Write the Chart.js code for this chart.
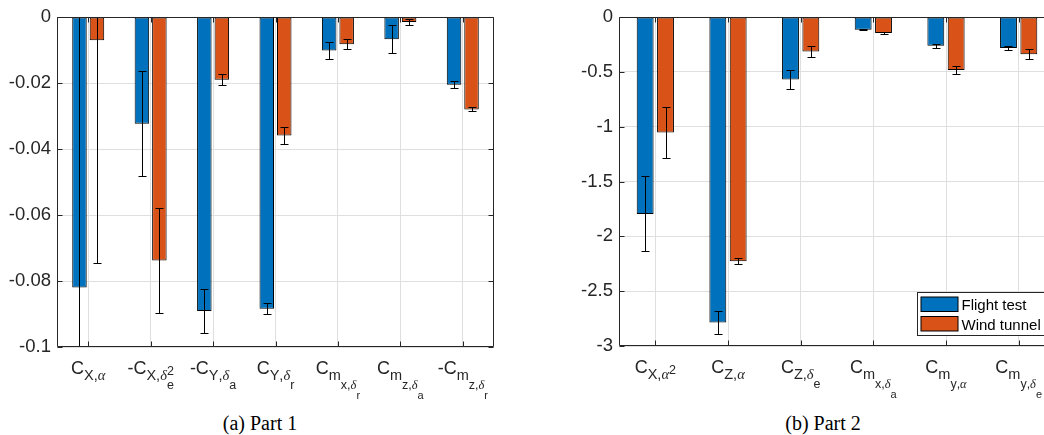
<!DOCTYPE html>
<html><head><meta charset="utf-8">
<script src="https://cdn.jsdelivr.net/npm/chart.js@4.4.1/dist/chart.umd.min.js"></script>
<style>
html,body{margin:0;padding:0;background:#fff;overflow:hidden;width:1044px;height:435px;}
#wrap{position:relative;width:1044px;height:435px;overflow:hidden;background:#fff;}
canvas{position:absolute;top:0;}
#c1{left:0;}
#c2{left:520px;}
.cap{position:absolute;top:413px;font-family:"Liberation Serif","Times New Roman",serif;font-size:20px;line-height:20px;color:#000;white-space:nowrap;transform:translateX(-50%);}
</style>
</head><body>
<div id="wrap">
<canvas id="c1" width="520" height="400"></canvas>
<canvas id="c2" width="560" height="400"></canvas>
<div class="cap" id="cap1" style="left:260px;">(a) Part 1</div>
<div class="cap" id="cap2" style="left:823px;">(b) Part 2</div>
</div>
<script>
// ---------------- DATA ----------------
const flightLabel = "Flight test";
const tunnelLabel = "Wind tunnel";

const categories1 = ["C_{X,α}", "-C_{X,δ_e^2}", "-C_{Y,δ_a}", "C_{Y,δ_r}", "C_{m_{x,δ_r}}", "C_{m_{z,δ_a}}", "-C_{m_{z,δ_r}}"];
const flight1     = [-0.082, -0.0323, -0.0891, -0.0884, -0.0101, -0.0067, -0.0205];
const flightErr1  = [0.09, 0.0159, 0.0066, 0.0017, 0.0027, 0.0043, 0.001];
const tunnel1     = [-0.007, -0.0738, -0.019, -0.0359, -0.0082, -0.0015, -0.028];
const tunnelErr1  = [0.0675, 0.016, 0.0017, 0.0027, 0.0015, 0.0008, 0.0006];
const yTicks1      = [0, -0.02, -0.04, -0.06, -0.08, -0.1];
const yTickLabels1 = ["0", "-0.02", "-0.04", "-0.06", "-0.08", "-0.1"];

const categories2 = ["C_{X,α^2}", "C_{Z,α}", "C_{Z,δ_e}", "C_{m_{x,δ_a}}", "C_{m_{y,α}}", "C_{m_{y,δ_e}}"];
const flight2     = [-1.795, -2.785, -0.570, -0.115, -0.262, -0.281];
const flightErr2  = [0.342, 0.104, 0.086, 0.005, 0.02, 0.018];
const tunnel2     = [-1.053, -2.227, -0.314, -0.145, -0.482, -0.338];
const tunnelErr2  = [0.232, 0.029, 0.047, 0.005, 0.035, 0.048];
const yTicks2      = [0, -0.5, -1, -1.5, -2, -2.5, -3];
const yTickLabels2 = ["0", "-0.5", "-1", "-1.5", "-2", "-2.5", "-3"];

// ---------------- STYLE ----------------
const BLUE = '#0072BD', ORANGE = '#D95319';
const AXIS = '#262626', GRID = '#dfdfdf';
const SIZES = [18, 14.5, 12.5, 11];
const SUBSHIFT = [5.5, 9.5, 9.5, 8.5];
const SUPSHIFT = [7, 5, 4, 3];
const GREEK = /[\u0370-\u03FF]/;

function parseTex(s){
  let i = 0;
  function group(){
    const nodes = [];
    while (i < s.length && s[i] !== '}'){
      const ch = s[i++];
      const node = {t: ch, sub: null, sup: null};
      while (i < s.length && (s[i] === '_' || s[i] === '^')){
        const k = s[i++];
        let g;
        if (s[i] === '{'){ i++; g = group(); i++; }
        else { g = [{t: s[i++], sub: null, sup: null}]; }
        if (k === '_') node.sub = g; else node.sup = g;
      }
      nodes.push(node);
    }
    return nodes;
  }
  return group();
}
function setFont(ctx, ch, lvl){
  const sz = SIZES[Math.min(lvl, 3)];
  ctx.font = GREEK.test(ch) ? `italic ${sz}px "Liberation Serif"` : `${sz}px "Liberation Sans"`;
}
function layout(ctx, nodes, lvl, x, base, draw){
  for (const n of nodes){
    setFont(ctx, n.t, lvl);
    if (draw) ctx.fillText(n.t, x, base);
    x += ctx.measureText(n.t).width;
    if (n.sub || n.sup){
      let x1 = x, x2 = x;
      if (n.sub) x1 = layout(ctx, n.sub, lvl + 1, x, base + SUBSHIFT[Math.min(lvl,3)], draw);
      if (n.sup) x2 = layout(ctx, n.sup, lvl + 1, x, base - SUPSHIFT[Math.min(lvl,3)], draw);
      x = Math.max(x1, x2);
    }
  }
  return x;
}

function extrasPlugin(opts){
  return {
    id: 'extras',
    afterDatasetsDraw(chart){
      const ctx = chart.ctx, a = chart.chartArea, xs = chart.scales.x, ys = chart.scales.y;
      ctx.save();
      ctx.beginPath(); ctx.rect(a.left, a.top, a.right - a.left, a.bottom - a.top); ctx.clip();
      ctx.strokeStyle = '#000'; ctx.lineWidth = 1;
      chart.data.datasets.forEach((ds, di) => {
        const meta = chart.getDatasetMeta(di);
        meta.data.forEach((bar, i) => {
          const v = ds.data[i], e = ds.errors[i];
          const px = Math.round(bar.x) + 0.5;
          const y1 = Math.round(ys.getPixelForValue(v + e)) + 0.5;
          const y2 = Math.round(ys.getPixelForValue(v - e)) + 0.5;
          ctx.beginPath();
          ctx.moveTo(px, y1); ctx.lineTo(px, y2);
          ctx.moveTo(px - 4, y1); ctx.lineTo(px + 4, y1);
          ctx.moveTo(px - 4, y2); ctx.lineTo(px + 4, y2);
          ctx.stroke();
        });
      });
      ctx.restore();
      ctx.save();
      ctx.strokeStyle = AXIS; ctx.lineWidth = 1;
      const L = Math.round(a.left) + 0.5, R = Math.round(a.right) - 0.5;
      const T = Math.round(a.top) + 0.5, B = Math.round(a.bottom) - 0.5;
      ctx.beginPath();
      ctx.moveTo(L, T); ctx.lineTo(R, T); ctx.lineTo(R, B); ctx.lineTo(L, B); ctx.closePath();
      xs.ticks.forEach((t, i) => {
        const px = Math.round(xs.getPixelForTick(i)) + 0.5;
        ctx.moveTo(px, T); ctx.lineTo(px, T + 5);
        ctx.moveTo(px, B); ctx.lineTo(px, B - 5);
      });
      opts.yTicks.forEach(v => {
        const py = Math.round(ys.getPixelForValue(v)) + 0.5;
        ctx.moveTo(L, py); ctx.lineTo(L + 5, py);
        ctx.moveTo(R, py); ctx.lineTo(R - 5, py);
      });
      ctx.stroke();
      ctx.restore();
    },
    afterDraw(chart){
      const ctx = chart.ctx, a = chart.chartArea, xs = chart.scales.x;
      ctx.save();
      ctx.fillStyle = AXIS; ctx.textBaseline = 'alphabetic'; ctx.textAlign = 'left';
      chart.data.labels.forEach((lab, i) => {
        const nodes = parseTex(lab);
        const w = layout(ctx, nodes, 0, 0, 0, false);
        const cx = xs.getPixelForTick(i);
        layout(ctx, nodes, 0, cx - w / 2, a.bottom + 27, true);
      });
      ctx.restore();
      if (opts.legend){
        ctx.save();
        const bx = Math.round(a.right) - 138 + 0.5, by = Math.round(a.bottom) - 54 + 0.5;
        const bw = 140, bh = 43;
        ctx.fillStyle = '#fff'; ctx.fillRect(bx, by, bw, bh);
        ctx.strokeStyle = AXIS; ctx.lineWidth = 1; ctx.strokeRect(bx, by, bw, bh);
        ctx.font = '15px "Liberation Sans"'; ctx.textBaseline = 'alphabetic'; ctx.textAlign = 'left';
        chart.data.datasets.forEach((ds, di) => {
          const sy = by + 4.5 + di * 19.5;
          ctx.fillStyle = ds.backgroundColor;
          ctx.fillRect(bx + 3.5, sy, 37, 14.5);
          ctx.strokeStyle = '#000';
          ctx.strokeRect(bx + 3.5, sy, 37, 14.5);
          ctx.fillStyle = '#000';
          ctx.fillText(ds.label, bx + 44, sy + 13);
        });
        ctx.restore();
      }
    }
  };
}

function makeChart(id, cats, fl, flErr, tu, tuErr, yTicks, yLabels, box, legend){
  const cv = document.getElementById(id);
  const W = cv.width, H = cv.height;
  return new Chart(cv, {
    type: 'bar',
    data: {
      labels: cats,
      datasets: [
        {label: flightLabel, data: fl, errors: flErr, backgroundColor: BLUE, borderColor: '#000', borderWidth: 1, borderSkipped: false,
         barPercentage: 0.83, categoryPercentage: 0.56},
        {label: tunnelLabel, data: tu, errors: tuErr, backgroundColor: ORANGE, borderColor: '#000', borderWidth: 1, borderSkipped: false,
         barPercentage: 0.83, categoryPercentage: 0.56}
      ]
    },
    options: {
      responsive: false, animation: false, devicePixelRatio: 1,
      layout: {padding: {left: 0, top: box.top, right: W - box.right, bottom: H - box.bottom}},
      plugins: {legend: {display: false}, tooltip: {enabled: false}},
      scales: {
        x: {
          offset: true,
          ticks: {display: false},
          grid: {display: true, offset: false, color: GRID, lineWidth: 1, drawTicks: false},
          border: {display: false},
          afterFit(s){ s.height = 0; }
        },
        y: {
          min: Math.min(...yTicks), max: Math.max(...yTicks),
          afterBuildTicks(s){ s.ticks = yTicks.map(v => ({value: v})); },
          ticks: {
            padding: 6, color: AXIS,
            font: {family: 'Liberation Sans', size: 18.5},
            callback: (v) => { const k = yTicks.indexOf(v); return k >= 0 ? yLabels[k] : ''; }
          },
          grid: {display: true, color: GRID, lineWidth: 1, drawTicks: false},
          border: {display: false},
          afterFit(s){ s.width = box.left; }
        }
      }
    },
    plugins: [extrasPlugin({yTicks: yTicks, legend: legend})]
  });
}

makeChart('c1', categories1, flight1, flightErr1, tunnel1, tunnelErr1, yTicks1, yTickLabels1,
  {left: 57, top: 14, right: 494, bottom: 347}, false);
makeChart('c2', categories2, flight2, flightErr2, tunnel2, tunnelErr2, yTicks2, yTickLabels2,
  {left: 99, top: 14, right: 535, bottom: 346}, true);
</script>
</body></html>
